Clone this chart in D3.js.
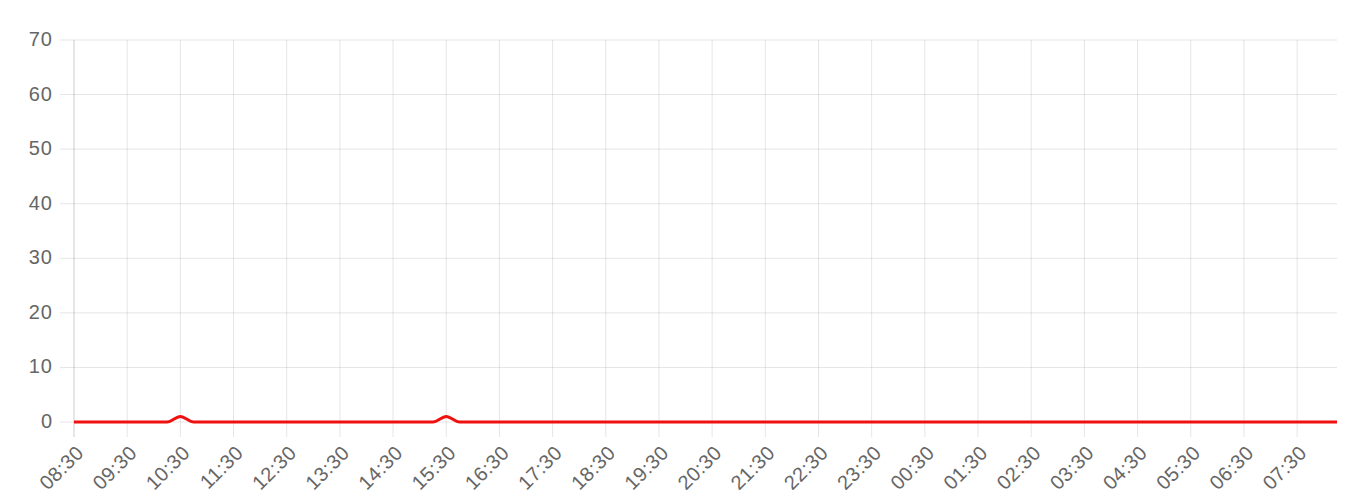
<!DOCTYPE html>
<html>
<head>
<meta charset="utf-8">
<script src="https://cdn.jsdelivr.net/npm/d3@7"></script>
<style>
html,body{margin:0;padding:0;background:#fff;}
svg{display:block;}
text{font-family:"Liberation Sans",Arial,Helvetica,sans-serif;fill:#666;}
</style>
</head>
<body>
<svg id="chart" width="1360" height="503"></svg>
<script>
const times = [
"08:30","08:45","09:00","09:15","09:30","09:45","10:00","10:15","10:30","10:45","11:00","11:15",
"11:30","11:45","12:00","12:15","12:30","12:45","13:00","13:15","13:30","13:45","14:00","14:15",
"14:30","14:45","15:00","15:15","15:30","15:45","16:00","16:15","16:30","16:45","17:00","17:15",
"17:30","17:45","18:00","18:15","18:30","18:45","19:00","19:15","19:30","19:45","20:00","20:15",
"20:30","20:45","21:00","21:15","21:30","21:45","22:00","22:15","22:30","22:45","23:00","23:15",
"23:30","23:45","00:00","00:15","00:30","00:45","01:00","01:15","01:30","01:45","02:00","02:15",
"02:30","02:45","03:00","03:15","03:30","03:45","04:00","04:15","04:30","04:45","05:00","05:15",
"05:30","05:45","06:00","06:15","06:30","06:45","07:00","07:15","07:30","07:45","08:00","08:15"
];
const values = [
0,0,0,0,0,0,0,0,1,0,0,0,
0,0,0,0,0,0,0,0,0,0,0,0,
0,0,0,0,1,0,0,0,0,0,0,0,
0,0,0,0,0,0,0,0,0,0,0,0,
0,0,0,0,0,0,0,0,0,0,0,0,
0,0,0,0,0,0,0,0,0,0,0,0,
0,0,0,0,0,0,0,0,0,0,0,0,
0,0,0,0,0,0,0,0,0,0,0,0
];
const tickLabels = [
"08:30","09:30","10:30","11:30","12:30","13:30","14:30","15:30","16:30","17:30","18:30","19:30",
"20:30","21:30","22:30","23:30","00:30","01:30","02:30","03:30","04:30","05:30","06:30","07:30"
];
const yTicks = [0,10,20,30,40,50,60,70];

const svg = d3.select("#chart");
const mLeft = 74, mRight = 1337, mTop = 40, mBottom = 422;
const x = d3.scalePoint().domain(times).range([mLeft, mRight]);
const y = d3.scaleLinear().domain([0,70]).range([mBottom, mTop]);

// horizontal grid
const gy = svg.append("g");
gy.selectAll("line").data(yTicks).join("line")
  .attr("x1", mLeft - 14).attr("x2", mRight)
  .attr("y1", d => y(d)).attr("y2", d => y(d))
  .attr("stroke", "rgba(0,0,0,0.1)").attr("stroke-width", 1);
gy.selectAll("text").data(yTicks).join("text")
  .attr("x", 53).attr("y", d => y(d)).attr("dy", "0.3em")
  .attr("text-anchor", "end").style("font-size", "20px").style("letter-spacing", "1px")
  .text(d => d);

// vertical grid
const gx = svg.append("g");
gx.selectAll("line").data(tickLabels).join("line")
  .attr("x1", d => x(d)).attr("x2", d => x(d))
  .attr("y1", mTop).attr("y2", mBottom + 15)
  .attr("stroke", (d,i) => i === 0 ? "rgba(0,0,0,0.2)" : "rgba(0,0,0,0.1)").attr("stroke-width", 1);
gx.selectAll("text").data(tickLabels).join("text")
  .attr("transform", d => `translate(${x(d) + 6},${mBottom + 27}) rotate(-45)`)
  .attr("text-anchor", "end").attr("dy", "0.35em").style("font-size", "20px").style("letter-spacing", "0.5px")
  .text(d => d);

// line
const line = d3.line()
  .x((d,i) => x(times[i]))
  .y(d => y(d))
  .curve(d3.curveMonotoneX);
svg.append("path").datum(values)
  .attr("d", line)
  .attr("fill", "none")
  .attr("stroke", "#f01010")
  .attr("stroke-width", 3);
</script>
</body>
</html>
